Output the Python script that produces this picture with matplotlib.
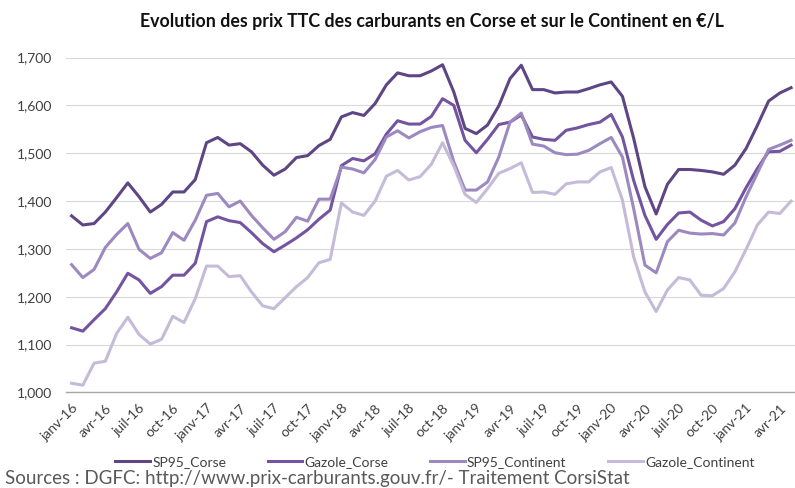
import matplotlib
matplotlib.use("Agg")
import matplotlib.pyplot as plt
import matplotlib.ticker as ticker

plt.rcParams["font.family"] = ["Lato", "DejaVu Sans"]

# Monthly TTC prices (EUR/L), janv-16 .. mai-21
sp95_corse = [1.369, 1.350, 1.353, 1.377, 1.407, 1.438, 1.409, 1.377, 1.393, 1.419, 1.419, 1.445,
              1.522, 1.533, 1.517, 1.520, 1.503, 1.475, 1.454, 1.467, 1.491, 1.495, 1.516,
              1.529, 1.576, 1.585, 1.579, 1.604, 1.643, 1.668, 1.662, 1.662, 1.672, 1.685, 1.628,
              1.552, 1.541, 1.559, 1.599, 1.656, 1.684, 1.633, 1.633, 1.626,
              1.628, 1.628, 1.635, 1.643, 1.649, 1.619, 1.531, 1.430, 1.373, 1.435, 1.466, 1.466,
              1.464, 1.461, 1.456, 1.475, 1.510, 1.558, 1.609, 1.626, 1.637]
gazole_corse = [1.135, 1.128, 1.152, 1.175, 1.210, 1.249, 1.235, 1.207, 1.221, 1.245, 1.245, 1.270,
                1.357, 1.367, 1.359, 1.355, 1.334, 1.311, 1.294, 1.308, 1.323, 1.340,
                1.362, 1.381, 1.474, 1.489, 1.484, 1.499, 1.540, 1.568, 1.561, 1.561, 1.577, 1.614,
                1.600, 1.527, 1.501, 1.529, 1.560, 1.565, 1.580, 1.534, 1.529, 1.527,
                1.548, 1.553, 1.560, 1.565, 1.581, 1.534, 1.443, 1.370, 1.320, 1.351, 1.375, 1.377,
                1.360, 1.348, 1.357, 1.384, 1.428, 1.468, 1.503, 1.504, 1.517]
sp95_continent = [1.267, 1.240, 1.257, 1.303, 1.330, 1.353, 1.299, 1.280, 1.292, 1.334, 1.318, 1.360,
                  1.412, 1.416, 1.388, 1.400, 1.370, 1.344, 1.320, 1.336, 1.366, 1.358, 1.404,
                  1.404, 1.471, 1.467, 1.459, 1.487, 1.534, 1.547, 1.532, 1.545, 1.554, 1.558, 1.482,
                  1.423, 1.423, 1.440, 1.492, 1.565, 1.584, 1.519, 1.515, 1.501,
                  1.497, 1.498, 1.506, 1.520, 1.533, 1.492, 1.384, 1.266, 1.250, 1.315, 1.339, 1.333,
                  1.331, 1.332, 1.329, 1.354, 1.409, 1.458, 1.508, 1.517, 1.527]
gazole_continent = [1.019, 1.015, 1.061, 1.065, 1.123, 1.157, 1.121, 1.101, 1.111, 1.159, 1.146, 1.196,
                    1.264, 1.264, 1.242, 1.244, 1.210, 1.181, 1.175, 1.198, 1.221, 1.240, 1.271,
                    1.278, 1.396, 1.377, 1.370, 1.400, 1.452, 1.464, 1.444, 1.451, 1.477, 1.522, 1.473,
                    1.414, 1.397, 1.426, 1.458, 1.468, 1.480, 1.418, 1.419, 1.414,
                    1.436, 1.440, 1.440, 1.461, 1.470, 1.402, 1.283, 1.210, 1.169, 1.214, 1.240, 1.235,
                    1.203, 1.202, 1.217, 1.252, 1.299, 1.350, 1.377, 1.374, 1.400]

tick_labels = ["janv-16", "avr-16", "juil-16", "oct-16", "janv-17", "avr-17", "juil-17", "oct-17",
               "janv-18", "avr-18", "juil-18", "oct-18", "janv-19", "avr-19", "juil-19", "oct-19",
               "janv-20", "avr-20", "juil-20", "oct-20", "janv-21", "avr-21"]

series = [("SP95_Corse", sp95_corse, "#5d4683"),
          ("Gazole_Corse", gazole_corse, "#7454a0"),
          ("SP95_Continent", sp95_continent, "#9c89bf"),
          ("Gazole_Continent", gazole_continent, "#c5bbd9")]

fig = plt.figure(figsize=(7.95, 4.88), dpi=100)
ax = fig.add_axes([0.083, 0.196, 0.917, 0.686])

x = list(range(len(sp95_corse)))
for name, vals, col in series:
    ax.plot(x, vals, color=col, linewidth=2.2, label=name, solid_joinstyle="round")

ax.set_ylim(1.0, 1.7)
ax.set_xlim(-0.5, 64.35)
ax.yaxis.set_major_locator(ticker.MultipleLocator(0.1))
ax.yaxis.set_major_formatter(ticker.FuncFormatter(lambda v, _: f"{v:.3f}".replace(".", ",")))
ax.set_xticks(range(0, 3 * len(tick_labels), 3))
ax.set_xticklabels(tick_labels, rotation=45, ha="right", va="top", rotation_mode="anchor")

ax.grid(axis="y", color="#d9d9d9", linewidth=0.8)
ax.set_axisbelow(True)
for s in ["top", "right", "left"]:
    ax.spines[s].set_visible(False)
ax.spines["bottom"].set_color("#a6a6a6")
ax.spines["bottom"].set_linewidth(1.0)
ax.tick_params(axis="both", length=0, colors="#404040", labelsize=10)
ax.tick_params(axis="x", pad=7)
ax.tick_params(axis="y", pad=10)

fig.text(0.543, 0.955, "Evolution des prix TTC des carburants en Corse et sur le Continent en €/L",
         ha="center", va="center", fontsize=12.8, fontweight="bold", color="#111111")

fig.legend(loc="center", bbox_to_anchor=(0.547, 0.054), ncol=4, frameon=False,
           handlelength=2.5, handletextpad=0.15, columnspacing=3.0, fontsize=10,
           labelcolor="#404040")

fig.text(0.006, 0.003, "Sources : DGFC: http://www.prix-carburants.gouv.fr/- Traitement CorsiStat",
         ha="left", va="bottom", fontsize=13.5, color="#595959")

fig.savefig("out.png", dpi=100)
